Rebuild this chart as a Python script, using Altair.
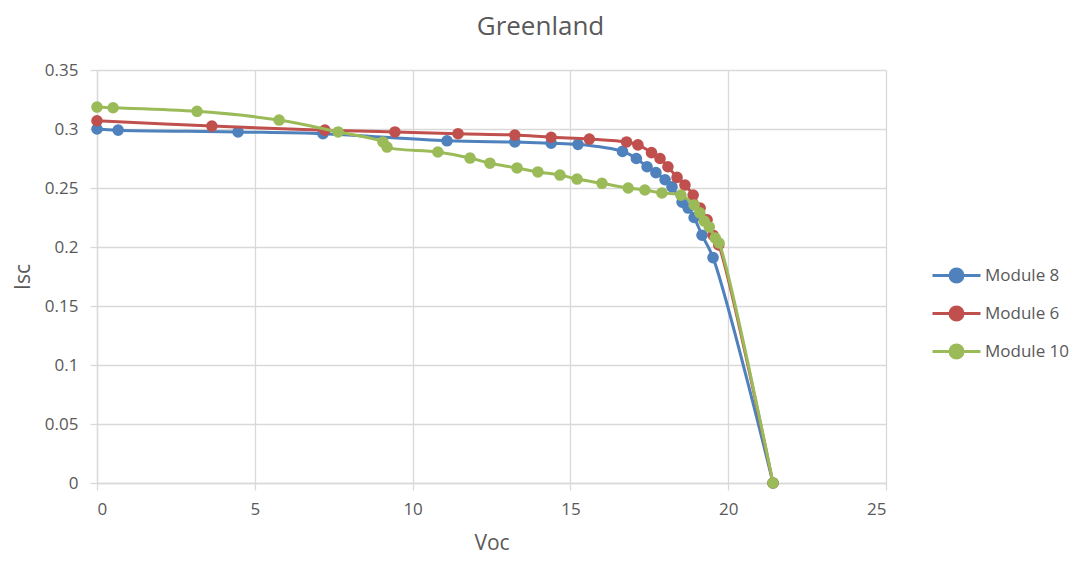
import altair as alt
import pandas as pd

series_names = ["Module 8", "Module 6", "Module 10"]
colors = ["#4F81BD", "#C0504D", "#9BBB59"]

m8_voc = [0, 0.67, 4.47, 7.16, 11.09, 13.24, 14.39, 15.24, 16.65, 17.09, 17.43, 17.71, 18.0, 18.22, 18.54, 18.73, 18.92, 19.17, 19.52, 21.42]
m8_isc = [0.300, 0.299, 0.2975, 0.296, 0.290, 0.289, 0.288, 0.287, 0.281, 0.275, 0.268, 0.263, 0.257, 0.251, 0.238, 0.233, 0.225, 0.210, 0.191, 0.0]

m6_voc = [0, 3.64, 7.22, 9.44, 11.44, 13.24, 14.39, 15.6, 16.78, 17.14, 17.57, 17.84, 18.09, 18.38, 18.63, 18.89, 19.11, 19.33, 19.52, 19.7, 21.42]
m6_isc = [0.307, 0.3025, 0.299, 0.2975, 0.296, 0.2949, 0.293, 0.2915, 0.289, 0.2865, 0.280, 0.275, 0.268, 0.259, 0.2525, 0.244, 0.233, 0.223, 0.210, 0.2017, 0.0]

m10_voc = [0, 0.51, 3.17, 5.77, 7.64, 9.06, 9.19, 10.8, 11.82, 12.45, 13.31, 13.97, 14.67, 15.21, 16.0, 16.83, 17.36, 17.9, 18.5, 18.92, 19.1, 19.24, 19.4, 19.59, 19.71, 21.42]
m10_isc = [0.3186, 0.318, 0.315, 0.3076, 0.2975, 0.289, 0.2847, 0.2805, 0.2754, 0.271, 0.267, 0.2636, 0.261, 0.2576, 0.254, 0.250, 0.2483, 0.2458, 0.244, 0.2356, 0.229, 0.222, 0.217, 0.2076, 0.2034, 0.0]

x_ticks = [0, 5, 10, 15, 20, 25]
y_ticks = [0, 0.05, 0.1, 0.15, 0.2, 0.25, 0.3, 0.35]

series_data = [(m8_voc, m8_isc), (m6_voc, m6_isc), (m10_voc, m10_isc)]

FONT = "Open Sans"
GREY = "#595959"

color_scale = alt.Scale(domain=series_names, range=colors)
x_scale = alt.Scale(domain=[0, 25], nice=False)
y_scale = alt.Scale(domain=[0, 0.35], nice=False)

legend_path = "M-1,0H1M0.27,0A0.27,0.27 0 1,1 -0.27,0A0.27,0.27 0 1,1 0.27,0Z"

layers = []
for name, (xs, ys) in zip(series_names, series_data):
    df = pd.DataFrame({"Voc": xs, "Isc": ys, "Series": name, "order": range(len(xs))})
    base = alt.Chart(df).encode(
        x=alt.X("Voc:Q", scale=x_scale, title="Voc",
                axis=alt.Axis(values=x_ticks)),
        y=alt.Y("Isc:Q", scale=y_scale, title="Isc",
                axis=alt.Axis(values=y_ticks, labelExpr="format(datum.value, '~g')")),
        color=alt.Color("Series:N", scale=color_scale,
                        legend=alt.Legend(title=None, orient="none", legendX=834, legendY=180,
                                          symbolType=legend_path, symbolSize=2304,
                                          symbolStrokeWidth=3, labelFontSize=17,
                                          labelColor=GREY, labelFont=FONT,
                                          labelOffset=3, rowPadding=-7)),
        order="order:Q",
    )
    line = base.mark_line(strokeWidth=3, interpolate="catmull-rom")
    pts = base.mark_point(filled=True, size=135, opacity=1, shape="circle")
    layers += [line, pts]

chart = alt.layer(*layers).properties(
    width=789, height=413,
    title=alt.Title("Greenland", fontSize=26, color=GREY, font=FONT,
                    fontWeight="normal", offset=21, dx=49),
    padding={"left": 89, "top": 62, "right": 192, "bottom": 72},
    autosize=alt.AutoSizeParams(type="none"),
).configure_view(stroke=None).configure_axis(
    gridColor="#d9d9d9", gridWidth=1.3, domainColor="#d9d9d9", domainWidth=1.3,
    tickColor="#d9d9d9", tickWidth=1.3, tickSize=7,
    labelFont=FONT, labelFontSize=17, labelColor=GREY,
    titleFont=FONT, titleFontSize=21, titleColor=GREY, titleFontWeight="normal",
).configure_axisX(labelPadding=11, titlePadding=15).configure_axisY(
    labelPadding=12, titlePadding=11, titleAngle=-90
)

chart.save("out.html", embed_options={"renderer": "svg", "actions": False})
